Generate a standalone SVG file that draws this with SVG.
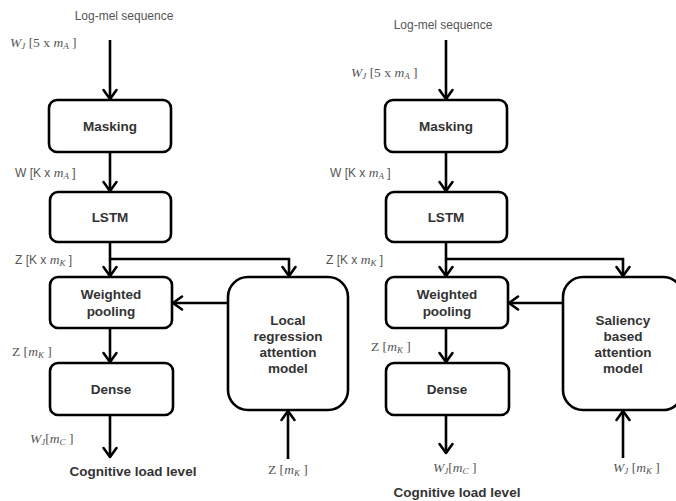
<svg xmlns="http://www.w3.org/2000/svg" width="676" height="501" viewBox="0 0 676 501">
<style>
.box{fill:#fff;stroke:#000;stroke-width:2.6}
.big{fill:#fff;stroke:#000;stroke-width:2.6}
.bt{font-family:"Liberation Sans",Arial,sans-serif;font-weight:bold;font-size:13.5px;fill:#333;text-anchor:middle}
.lbl{font-family:"Liberation Sans",Arial,sans-serif;font-size:12px;fill:#555}
.ser{font-family:"Liberation Serif","Times New Roman",serif;font-size:13.5px;fill:#555}
.it{font-family:"Liberation Serif","Times New Roman",serif;font-style:italic}
.sub{font-size:9px}
.out{font-family:"Liberation Sans",Arial,sans-serif;font-weight:bold;font-size:13.5px;fill:#333;text-anchor:middle}
.cn{fill:none;stroke:#000;stroke-width:2.6}
.ar{marker-end:url(#ah)}
</style>
<defs>
<marker id="ah" markerUnits="userSpaceOnUse" viewBox="-2 -9 14 18" refX="9" refY="0" markerWidth="14" markerHeight="18" orient="auto">
<path d="M0,-6.5 L9,0 L0,6.5" fill="none" stroke="#000" stroke-width="2.6" stroke-linecap="round" stroke-linejoin="round"/>
</marker>
</defs>

<g id="connectors">
<path class="cn ar" d="M110,40 V99"/>
<path class="cn ar" d="M110,152 V191"/>
<path class="cn ar" d="M110,242 V276"/>
<path class="cn ar" d="M110,259 H289 V276"/>
<path class="cn ar" d="M227,303 H173"/>
<path class="cn ar" d="M110,328 V362"/>
<path class="cn ar" d="M110,415 V457"/>
<path class="cn ar" d="M288,459 V411"/>
<path class="cn ar" d="M446,40 V99"/>
<path class="cn ar" d="M446,152 V191"/>
<path class="cn ar" d="M446,242 V276"/>
<path class="cn ar" d="M446,259 H623 V276"/>
<path class="cn ar" d="M563,303 H509"/>
<path class="cn ar" d="M446,328 V362"/>
<path class="cn ar" d="M446,415 V453"/>
<path class="cn ar" d="M623,458 V411"/>
</g>

<g id="left-masking">
<rect class="box" x="49" y="100" width="122" height="52" rx="8"/>
<text class="bt" x="110" y="131">Masking</text>
</g>
<g id="left-lstm">
<rect class="box" x="50" y="192" width="121" height="50" rx="8"/>
<text class="bt" x="110" y="222">LSTM</text>
</g>
<g id="left-pooling">
<rect class="box" x="50" y="277" width="122" height="51" rx="8"/>
<text class="bt" x="111" y="299">Weighted</text>
<text class="bt" x="111" y="316">pooling</text>
</g>
<g id="left-dense">
<rect class="box" x="50" y="363" width="123" height="52" rx="8"/>
<text class="bt" x="111" y="394">Dense</text>
</g>
<g id="left-attention">
<rect class="big" x="228" y="277" width="120" height="133" rx="20"/>
<text class="bt" x="288" y="325">Local</text>
<text class="bt" x="288" y="341">regression</text>
<text class="bt" x="288" y="357">attention</text>
<text class="bt" x="288" y="373">model</text>
</g>

<g id="right-masking">
<rect class="box" x="385" y="100" width="122" height="52" rx="8"/>
<text class="bt" x="446" y="131">Masking</text>
</g>
<g id="right-lstm">
<rect class="box" x="386" y="192" width="121" height="50" rx="8"/>
<text class="bt" x="446" y="222">LSTM</text>
</g>
<g id="right-pooling">
<rect class="box" x="386" y="277" width="122" height="51" rx="8"/>
<text class="bt" x="447" y="299">Weighted</text>
<text class="bt" x="447" y="316">pooling</text>
</g>
<g id="right-dense">
<rect class="box" x="386" y="363" width="123" height="52" rx="8"/>
<text class="bt" x="447" y="394">Dense</text>
</g>
<g id="right-attention">
<rect class="big" x="563" y="277" width="120" height="133" rx="20"/>
<text class="bt" x="623" y="325">Saliency</text>
<text class="bt" x="623" y="341">based</text>
<text class="bt" x="623" y="357">attention</text>
<text class="bt" x="623" y="373">model</text>
</g>

<g id="labels" xml:space="preserve">
<text class="lbl" x="124" y="20" text-anchor="middle" font-size="12.5">Log-mel sequence</text>
<text class="ser" x="10" y="47"><tspan class="it">W</tspan><tspan class="it sub" dy="2">J</tspan><tspan dy="-2"> [5  x </tspan><tspan class="it">m</tspan><tspan class="it sub" dy="2">A</tspan><tspan dy="-2">  ]</tspan></text>
<text class="lbl" x="15" y="177">W [K  x <tspan class="it" font-size="13.5">m</tspan><tspan class="it sub" dy="2">A</tspan><tspan dy="-2">  ]</tspan></text>
<text class="lbl" x="15" y="264">Z [K  x <tspan class="it" font-size="13.5">m</tspan><tspan class="it sub" dy="2">K</tspan><tspan dy="-2">  ]</tspan></text>
<text class="ser" x="12" y="356">Z [<tspan class="it">m</tspan><tspan class="it sub" dy="2">K</tspan><tspan dy="-2">  ]</tspan></text>
<text class="ser" x="30" y="443"><tspan class="it">W</tspan><tspan class="it sub" dy="2">J</tspan><tspan dy="-2">[</tspan><tspan class="it">m</tspan><tspan class="it sub" dy="2">C</tspan><tspan dy="-2">  ]</tspan></text>
<text class="out" x="133" y="476">Cognitive load level</text>
<text class="ser" x="268" y="474">Z [<tspan class="it">m</tspan><tspan class="it sub" dy="2">K</tspan><tspan dy="-2">  ]</tspan></text>

<text class="lbl" x="443" y="29" text-anchor="middle" font-size="12.5">Log-mel sequence</text>
<text class="ser" x="351" y="77"><tspan class="it">W</tspan><tspan class="it sub" dy="2">J</tspan><tspan dy="-2"> [5  x </tspan><tspan class="it">m</tspan><tspan class="it sub" dy="2">A</tspan><tspan dy="-2">  ]</tspan></text>
<text class="lbl" x="330" y="177">W [K  x <tspan class="it" font-size="13.5">m</tspan><tspan class="it sub" dy="2">A</tspan><tspan dy="-2">  ]</tspan></text>
<text class="lbl" x="326" y="264">Z [K  x <tspan class="it" font-size="13.5">m</tspan><tspan class="it sub" dy="2">K</tspan><tspan dy="-2">  ]</tspan></text>
<text class="ser" x="371" y="351">Z [<tspan class="it">m</tspan><tspan class="it sub" dy="2">K</tspan><tspan dy="-2">  ]</tspan></text>
<text class="ser" x="433" y="472"><tspan class="it">W</tspan><tspan class="it sub" dy="2">J</tspan><tspan dy="-2">[</tspan><tspan class="it">m</tspan><tspan class="it sub" dy="2">C</tspan><tspan dy="-2">  ]</tspan></text>
<text class="out" x="457" y="497">Cognitive load level</text>
<text class="ser" x="613" y="472"><tspan class="it">W</tspan><tspan class="it sub" dy="2">J</tspan><tspan dy="-2"> [</tspan><tspan class="it">m</tspan><tspan class="it sub" dy="2">K</tspan><tspan dy="-2">  ]</tspan></text>
</g>
</svg>
